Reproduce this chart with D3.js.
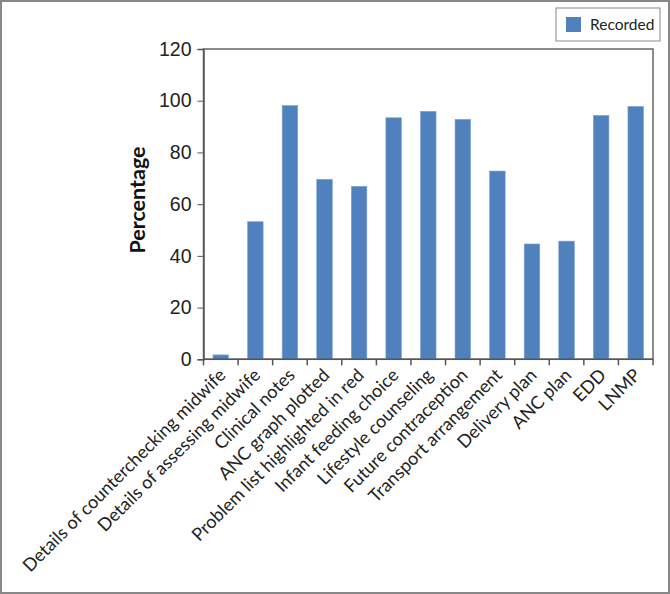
<!DOCTYPE html>
<meta charset="utf-8">
<style>
body { margin: 0; background: #fff; }
svg { display: block; font-family: Lato, "Open Sans", sans-serif; }
.axis path, .axis line { stroke: #555; }
.axis text { fill: #222; }
</style>
<svg width="670" height="594"></svg>
<script src="https://cdnjs.cloudflare.com/ajax/libs/d3/7.8.5/d3.min.js"></script>
<script>
"use strict";

// data
var categories = [
  "Details of counterchecking midwife",
  "Details of assessing midwife",
  "Clinical notes",
  "ANC graph plotted",
  "Problem list highlighted in red",
  "Infant feeding choice",
  "Lifestyle counseling",
  "Future contraception",
  "Transport arrangement",
  "Delivery plan",
  "ANC plan",
  "EDD",
  "LNMP"
];
var recorded = [1.7, 53.2, 98.1, 69.6, 66.9, 93.4, 95.9, 92.8, 72.8, 44.6, 45.7, 94.3, 97.8];
var yTicks = [0, 20, 40, 60, 80, 100, 120];
var seriesName = "Recorded";

var svg = d3.select("svg"),
    width = +svg.attr("width"),
    height = +svg.attr("height");

// outer frame
svg.append("rect")
  .attr("x", 1).attr("y", 1)
  .attr("width", width - 2).attr("height", height - 2)
  .attr("fill", "none").attr("stroke", "#888").attr("stroke-width", 2);

var plotL = 203.5, plotR = 653, plotT = 49, plotB = 359.3;

var x = d3.scaleBand().domain(categories).range([plotL, plotR]).paddingInner(0.55).paddingOuter(0.275);
var xEdge = d3.scaleBand().domain(categories).range([plotL, plotR]);
var y = d3.scaleLinear().domain([0, 120]).range([plotB, plotT]);

// plot border
svg.append("rect")
  .attr("x", plotL).attr("y", plotT)
  .attr("width", plotR - plotL).attr("height", plotB - plotT)
  .attr("fill", "none").attr("stroke", "#666").attr("stroke-width", 1.5);

svg.append("g")
  .selectAll("rect")
  .data(recorded)
  .enter().append("rect")
    .attr("x", function(d, i) { return x(categories[i]); })
    .attr("y", function(d) { return y(d); })
    .attr("width", x.bandwidth())
    .attr("height", function(d) { return y(0) - y(d); })
    .attr("fill", "#4F81BD")
    .attr("stroke", "#7FA3D0")
    .attr("stroke-width", 0.6);

// y axis
var yAxis = svg.append("g")
  .attr("class", "axis")
  .attr("transform", "translate(" + plotL + ",0)")
  .call(d3.axisLeft(y).tickValues(yTicks).tickSize(6).tickPadding(6))
  .call(function(g) { g.select(".domain").attr("stroke-width", 1.5); });
yAxis.selectAll("text").attr("font-size", 19.5);

// x axis with ticks at band edges
var xAxis = svg.append("g")
  .attr("class", "axis")
  .attr("transform", "translate(0," + plotB + ")");
xAxis.append("line")
  .attr("x1", plotL).attr("x2", plotR)
  .attr("stroke-width", 1.5);
xAxis.selectAll(".tick")
  .data(categories.concat(["end"]))
  .enter().append("line")
    .attr("class", "tick")
    .attr("x1", function(d, i) { return i < categories.length ? xEdge(d) : plotR; })
    .attr("x2", function(d, i) { return i < categories.length ? xEdge(d) : plotR; })
    .attr("y1", 0).attr("y2", 6)
    .attr("stroke-width", 1.5);

xAxis.selectAll("text")
  .data(categories)
  .enter().append("text")
    .attr("transform", function(d) {
      return "translate(" + (xEdge(d) + xEdge.bandwidth() / 2 + 6) + ",17) rotate(-45)";
    })
    .attr("text-anchor", "end")
    .attr("font-size", 18)
    .attr("fill", "#222")
    .text(function(d) { return d; });

// y title
svg.append("text")
  .attr("transform", "translate(145,200) rotate(-90)")
  .attr("text-anchor", "middle")
  .attr("font-size", 21.5)
  .attr("font-weight", "bold")
  .attr("fill", "#111")
  .text("Percentage");

// legend
var legend = svg.append("g");
legend.append("rect")
  .attr("x", 556).attr("y", 8).attr("width", 104).attr("height", 33)
  .attr("fill", "#fff").attr("stroke", "#888");
legend.append("rect")
  .attr("x", 566).attr("y", 17).attr("width", 15).attr("height", 15)
  .attr("fill", "#4F81BD");
legend.append("text")
  .attr("x", 590).attr("y", 30)
  .attr("font-size", 15.5)
  .attr("fill", "#222")
  .text(seriesName);
</script>
